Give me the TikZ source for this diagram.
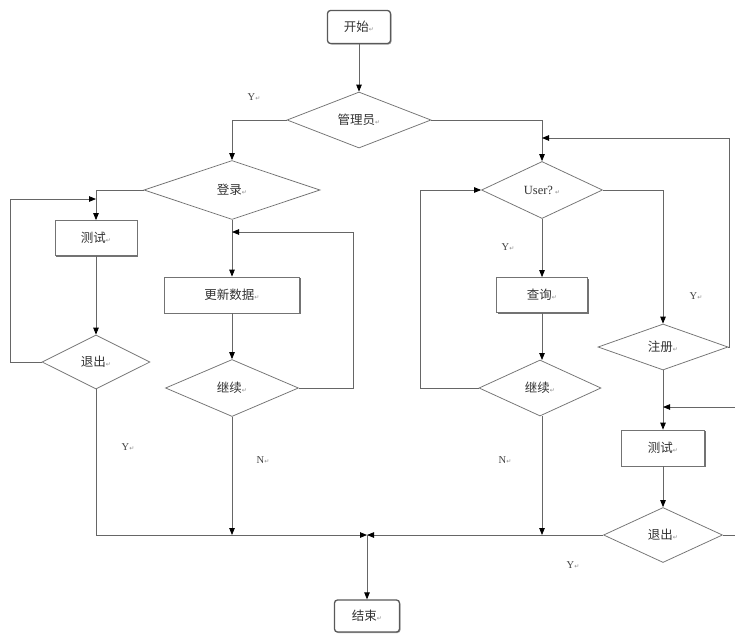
\documentclass[tikz,border=0pt]{standalone}
\usepackage{fontspec}
\setmainfont{Liberation Serif}
\newfontfamily\cjk{Noto Sans CJK SC}
\newfontfamily\symf{DejaVu Sans}
\usetikzlibrary{shapes.geometric,arrows.meta,shadows}
\newcommand\retmark{{\symf\fontsize{6}{6}\selectfont\color{black!45}↵}}
\begin{document}
\begin{tikzpicture}[x=1pt,y=-1pt,
  line/.style={draw=black!60, line width=0.8pt},
  arr/.style={line, -{Triangle[length=7pt,width=5.5pt,color=black]}},
  base/.style={draw=black!55, line width=0.75pt, fill=white, inner sep=0pt,
    font=\cjk\fontsize{12.5}{14}\selectfont, text=black!80},
  box/.style={base, rectangle,
    drop shadow={shadow xshift=1.2pt,shadow yshift=-1.2pt,fill=black!55,opacity=1}},
  rbox/.style={base, rectangle, rounded corners=3pt, draw=black!65, line width=1.3pt,
    drop shadow={shadow xshift=1pt,shadow yshift=-1pt,fill=black!35,opacity=1}},
  dia/.style={base, diamond, aspect=2.5},
  lab/.style={font=\fontsize{10.5}{12}\selectfont, text=black!75, inner sep=0pt}]
\useasboundingbox (0,0) rectangle (735,640);
\fill[white] (0,0) rectangle (735,640);

% nodes
\node[rbox, minimum width=63pt, minimum height=33pt] (start) at (359,27) {开始\retmark};
\node[dia, minimum width=144pt, minimum height=56pt] (admin) at (359,120) {管理员\retmark};
\node[dia, minimum width=176pt, minimum height=59pt] (login) at (232,190) {登录\retmark};
\node[box, minimum width=82pt, minimum height=35pt] (test1) at (96,238) {测试\retmark};
\node[dia, minimum width=108pt, minimum height=54pt] (exit1) at (96,362) {退出\retmark};
\node[box, minimum width=135pt, minimum height=36pt] (update) at (232,295) {更新数据\retmark};
\node[dia, minimum width=133pt, minimum height=57pt] (cont1) at (232,388) {继续\retmark};
\node[dia, minimum width=121pt, minimum height=57pt] (user) at (542,190) {\rmfamily User?\,\retmark};
\node[box, minimum width=91pt, minimum height=35pt] (query) at (542,295) {查询\retmark};
\node[dia, minimum width=122pt, minimum height=56pt] (cont2) at (540,388) {继续\retmark};
\node[dia, minimum width=130pt, minimum height=46pt] (reg) at (663,347) {注册\retmark};
\node[box, minimum width=83pt, minimum height=36pt] (test2) at (663,448) {测试\retmark};
\node[dia, minimum width=119pt, minimum height=55pt] (exit2) at (663,535) {退出\retmark};
\node[rbox, minimum width=65pt, minimum height=32pt] (end) at (367,616) {结束\retmark};

% junction coordinates
\coordinate (jl) at (96,199);
\coordinate (ju) at (232,232);
\coordinate (jr) at (542,138);
\coordinate (jt) at (663,407);
\coordinate (edge1) at (735,407);
\coordinate (edge2) at (735,535);
\coordinate (bot) at (367,535);
\coordinate (c1b) at (232,535);
\coordinate (c2b) at (542,535);
\coordinate (c2t) at (542,360);
\coordinate (c2s) at (542,416);

% main connectors
\draw[arr] (start) -- (admin);
\draw[arr] (admin.west) -| (login.north);
\draw[arr] (admin.east) -| (user.north);
\draw[arr] (login.west) -| (test1.north);
\draw[arr] (test1) -- (exit1);
\draw[arr] (login.south) -- (update.north);
\draw[arr] (update) -- (cont1);
\draw[arr] (user.south) -- (query.north);
\draw[arr] (query.south) -- (c2t);
\draw[arr] (user.east) -| (reg.north);
\draw[arr] (reg.south) -- (test2.north);
\draw[arr] (test2) -- (exit2);

% loops
\draw[arr] (exit1.west) -- (10,362) |- (jl);
\draw[arr] (cont1.east) -- (353,388) |- (ju);
\draw[arr] (cont2.west) -- (420,388) |- (user.west);
\draw[arr] (reg.east) -- (729,347) |- (jr);
\draw[arr] (edge1) -- (jt);

% bottom
\draw[arr] (exit1.south) |- (bot);
\draw[arr] (cont1.south) -- (c1b);
\draw[arr] (c2s) -- (c2b);
\draw[arr] (exit2.west) -- (bot);
\draw[line] (exit2.east) -- (edge2);
\draw[arr] (bot) -- (end.north);

% labels
\node[lab] (l1) at (254,97) {Y\retmark};
\node[lab] (l2) at (128,447) {Y\retmark};
\node[lab] (l3) at (263,460) {N\retmark};
\node[lab] (l4) at (508,247) {Y\retmark};
\node[lab] (l5) at (696,296) {Y\retmark};
\node[lab] (l6) at (505,460) {N\retmark};
\node[lab] (l7) at (573,565) {Y\retmark};
\end{tikzpicture}
\end{document}
